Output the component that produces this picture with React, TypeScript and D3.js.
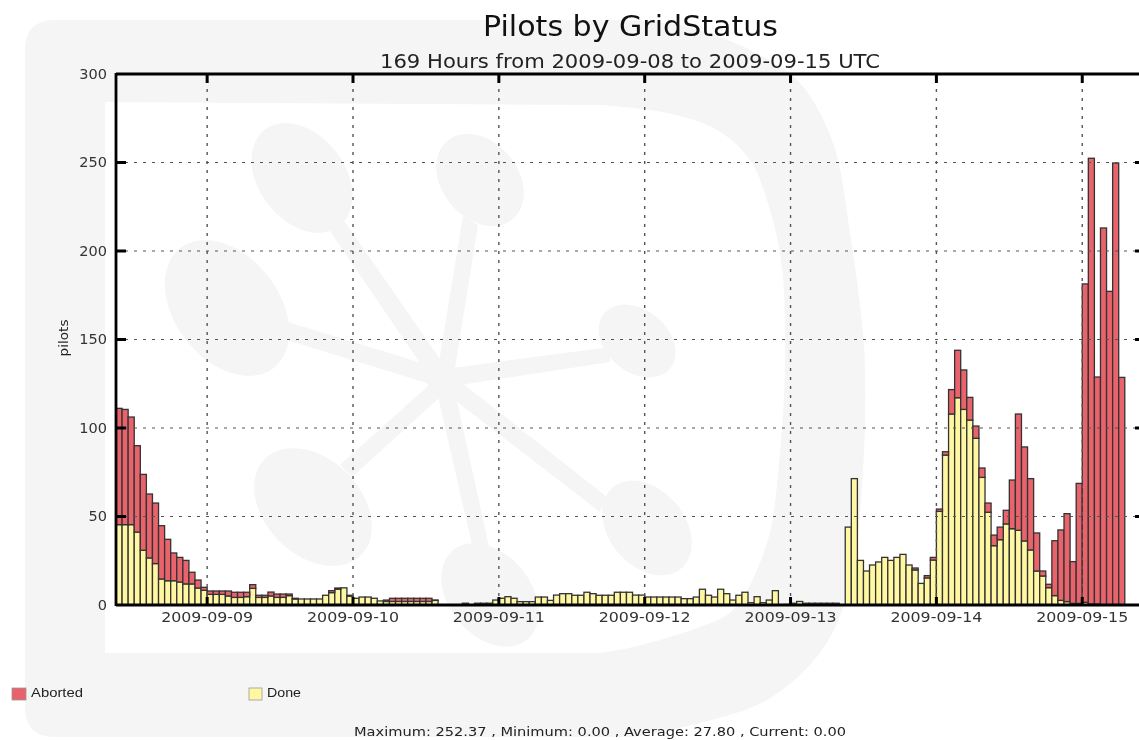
import React from "react";
import * as d3 from "d3";

const W = 1139;
const H = 740;

const startTime = "2009-09-08T09:00:00Z";
const endTime = "2009-09-15T10:00:00Z";
const tickDays = ["2009-09-09", "2009-09-10", "2009-09-11", "2009-09-12", "2009-09-13", "2009-09-14", "2009-09-15"];
const yTicks = [0, 50, 100, 150, 200, 250, 300];
const seriesNames = ["Done", "Aborted"];

const done = [
  45.4, 45.4, 45.4, 41.2, 30.9, 26.6, 23.4, 14.7, 13.7, 13.7,
  13, 11.9, 11.9, 9.6, 8.3, 6, 6, 6, 5.1, 4.3,
  4.3, 4.7, 9.4, 4.3, 4.3, 5.1, 4.3, 4.3, 5.3, 3.4,
  3.4, 3.4, 3.4, 3.4, 5.5, 7, 8.9, 9.7, 5, 3.8,
  4.5, 4.5, 3.8, 2.3, 2, 2, 2, 2, 2, 2,
  2, 2, 2.6, 0, 0, 0, 0, 1, 0, 1,
  1, 1, 2.8, 3.8, 4.7, 3.8, 1.9, 1.9, 1.9, 4.5,
  4.5, 2.6, 5.6, 6.4, 6.4, 5.5, 5.5, 7.2, 6.4, 5.5,
  5.5, 5.5, 7.2, 7.2, 7.2, 5.6, 5.6, 4.5, 4.5, 4.5,
  4.5, 4.5, 4.5, 3.6, 3.6, 4.5, 8.9, 5.5, 4.5, 8.9,
  6.4, 2.8, 5.5, 7.2, 1.3, 4.7, 1.3, 2.8, 8.1, 0,
  0.3, 1, 2, 1, 1, 1, 1, 1, 1, 0,
  44, 71.4, 25.2, 19.2, 22.6, 24.3, 26.9, 25.2, 26.9, 28.6,
  22.6, 19.8, 12.2, 15.3, 25.4, 52.9, 84.7, 107.9, 117.1, 110.5,
  104.5, 94.2, 72.1, 52.4, 33.5, 36.9, 45.8, 43.1, 42.2, 36.2,
  31.1, 19.2, 16.4, 9.8, 5.3, 2.6, 1.9, 0.9, 0.9, 1.5,
  0.5, 0.5, 0, 0, 0, 0, 0, 0, 0,
];

const aborted = [
  65.7, 65.1, 60.8, 48.8, 42.9, 36.1, 34.2, 30.1, 23.4, 15.7,
  13.9, 13.3, 6.6, 4.5, 1.7, 1.9, 1.9, 1.9, 2.8, 2.9,
  2.9, 2.5, 2.1, 1.2, 1.2, 2.2, 1.9, 1.9, 0.9, 0.4,
  0, 0, 0, 0, 0, 1.1, 0.7, 0, 0.5, 0,
  0, 0, 0, 0, 0.8, 1.8, 1.8, 1.8, 1.8, 1.8,
  1.8, 1.8, 0.2, 0, 0, 0, 0, 0, 0, 0,
  0, 0, 0, 0, 0, 0, 0, 0, 0, 0,
  0, 0, 0, 0, 0, 0, 0, 0, 0, 0,
  0, 0, 0, 0, 0, 0, 0, 0, 0, 0,
  0, 0, 0, 0, 0, 0, 0, 0, 0, 0,
  0, 0, 0, 0, 0, 0, 0, 0, 0, 0,
  0, 0, 0, 0, 0, 0, 0, 0, 0, 0,
  0, 0, 0, 0, 0, 0, 0, 0, 0, 0,
  0, 1.1, 0, 1.3, 1.5, 1.3, 1.9, 13.8, 26.8, 22.3,
  12.8, 6.9, 5.3, 5.2, 6, 7.1, 7.7, 27.5, 65.7, 53.1,
  40.3, 21.5, 2.8, 1.9, 31, 39.8, 49.7, 23.6, 67.8, 179.9,
  251.9, 128.3, 213, 177.2, 249.7, 128.6, 0, 0, 0,
];

const GRAY = "#f5f5f5";
const RED = "#e8636b";
const YELLOW = "#fff7a1";
const EDGE = "#333333";
const SANS = "'DejaVu Sans', sans-serif";

const logoEllipses: [number, number, number, number, number][] = [
  [302, 178, 61, 43, 52],
  [480, 180, 51, 38, 50],
  [227, 308, 76, 52, 52],
  [637, 341, 43, 31, 40],
  [313, 507, 68, 48, 45],
  [490, 595, 58, 41, 50],
  [647, 528, 53, 38, 50],
];

const logoSpokes: string[] = [
  "M345,222 L442,362 L420,363 L330,231 Z",
  "M463,216 L439,362 L455,368 L478,225 Z",
  "M288,322 L425,364 L430,384 L287,340 Z",
  "M452,368 L610,347 L610,362 L460,385 Z",
  "M340,465 L437,378 L440,397 L352,477 Z",
  "M437,392 L472,545 L489,547 L456,396 Z",
  "M462,383 L607,497 L600,512 L452,398 Z",
  "M420,363 L442,360 L455,368 L463,385 L456,398 L437,397 L427,383 Z",
];

const outerCurve: [number, number][] = [
  [600, 20], [660, 22], [700, 30], [760, 55], [800, 83], [833, 143], [850, 233], [863, 333],
  [865, 370], [863, 470], [850, 585], [822, 650], [767, 700], [700, 723], [633, 737],
];
const innerCurve: [number, number][] = [
  [600, 105], [667, 113], [717, 130], [750, 160], [770, 210], [782, 267], [785, 333], [785, 370],
  [780, 453], [767, 543], [733, 610], [700, 627], [633, 647], [600, 653],
];

export default function App() {
  const x = d3
    .scaleUtc()
    .domain([new Date(startTime), new Date(endTime)])
    .range([116, 116 + 169 * 6.077]);
  const y = d3.scaleLinear().domain([0, 300]).range([605, 74]);
  const hourly = done.map((d, i) => ({
    t: d3.utcHour.offset(new Date(startTime), i),
    Done: d,
    Aborted: aborted[i],
  }));
  const stacked = d3.stack<any>().keys(seriesNames)(hourly);
  const colours: Record<string, string> = { Done: YELLOW, Aborted: RED };
  const curve = d3.line().curve(d3.curveCatmullRom.alpha(0.5));
  const outerPath = (curve(outerCurve) as string).slice(1);
  const innerPath = (curve(innerCurve) as string).slice(1);
  const days = tickDays.map((d) => ({ label: d, px: x(new Date(d + "T00:00:00Z")) }));
  const gridColor = "#555";

  return (
    <svg
      width={W}
      height={H}
      viewBox={`0 0 ${W} ${H}`}
      style={{ position: "absolute", left: 0, top: 0, background: "#fff", filter: "blur(0.5px)" }}
    >
      <path
        fillRule="evenodd"
        fill={GRAY}
        d={`M25,50 Q25,20 55,20 L${outerPath} L55,737 Q25,737 25,707 Z M105,102 L${innerPath} L105,653 Z`}
      />
      {logoEllipses.map(([cx, cy, rx, ry, rot], i) => (
        <ellipse key={i} cx={cx} cy={cy} rx={rx} ry={ry} fill={GRAY} transform={`rotate(${rot} ${cx} ${cy})`} />
      ))}
      {logoSpokes.map((d, i) => (
        <path key={i} d={d} fill={GRAY} />
      ))}

      <text x={630.5} y={36} textAnchor="middle" fontFamily={SANS} fontSize={27.5} fill="#111" textLength={295} lengthAdjust="spacingAndGlyphs">
        Pilots by GridStatus
      </text>
      <text x={630} y={68} textAnchor="middle" fontFamily={SANS} fontSize={20} fill="#222" textLength={500} lengthAdjust="spacingAndGlyphs">
        169 Hours from 2009-09-08 to 2009-09-15 UTC
      </text>

      {stacked.map((layer) => (
        <g key={layer.key}>
          {layer.map((d, i) =>
            d[1] - d[0] > 0 ? (
              <rect
                key={i}
                x={x(d.data.t)}
                width={x(d3.utcHour.offset(d.data.t, 1)) - x(d.data.t)}
                y={y(d[1])}
                height={y(d[0]) - y(d[1])}
                fill={colours[layer.key]}
                stroke={EDGE}
                strokeWidth={1.3}
              />
            ) : null
          )}
        </g>
      ))}

      {days.map((d) => (
        <line key={d.label} x1={d.px} x2={d.px} y1={605} y2={74} stroke={gridColor} strokeWidth={1.4} strokeDasharray="3 6" />
      ))}
      {yTicks.slice(1, -1).map((v) => (
        <line key={v} x1={116} x2={1139} y1={y(v)} y2={y(v)} stroke={gridColor} strokeWidth={1.2} strokeDasharray="3 6" />
      ))}

      <line x1={116} x2={1139} y1={74} y2={74} stroke="#000" strokeWidth={2.8} />
      <line x1={116} x2={1139} y1={605} y2={605} stroke="#000" strokeWidth={3} />
      <line x1={116} x2={116} y1={73} y2={606} stroke="#000" strokeWidth={2.8} />

      {days.map((d) => (
        <g key={d.label}>
          <line x1={d.px} x2={d.px} y1={74} y2={83} stroke="#000" strokeWidth={3} />
          <line x1={d.px} x2={d.px} y1={605} y2={597} stroke="#000" strokeWidth={3} />
          <text x={d.px} y={622} textAnchor="middle" fontFamily={SANS} fontSize={14.5} fill="#333" textLength={92} lengthAdjust="spacingAndGlyphs">
            {d.label}
          </text>
        </g>
      ))}
      {yTicks.map((v) => (
        <g key={v}>
          {v > 0 && v < 300 && (
            <>
              <line x1={116} x2={126} y1={y(v)} y2={y(v)} stroke="#000" strokeWidth={3} />
              <line x1={1135} x2={1139} y1={y(v)} y2={y(v)} stroke="#000" strokeWidth={3} />
            </>
          )}
          <text x={107} y={y(v) + 4.5} textAnchor="end" fontFamily={SANS} fontSize={14.5} fill="#333">
            {v}
          </text>
        </g>
      ))}

      <text
        transform="translate(68,338) rotate(-90)"
        textAnchor="middle"
        fontFamily={SANS}
        fontSize={12.5}
        fill="#222"
        textLength={37}
        lengthAdjust="spacingAndGlyphs"
      >
        pilots
      </text>

      <rect x={12} y={688} width={14} height={12} fill={RED} stroke="#999" strokeWidth={0.8} />
      <text x={31} y={697} fontFamily="'Liberation Sans', Arial, sans-serif" fontSize={13} fill="#222" textLength={52} lengthAdjust="spacingAndGlyphs">
        Aborted
      </text>
      <rect x={249} y={688} width={13} height={12} fill={YELLOW} stroke="#999" strokeWidth={0.8} />
      <text x={267} y={697} fontFamily="'Liberation Sans', Arial, sans-serif" fontSize={13} fill="#222" textLength={34} lengthAdjust="spacingAndGlyphs">
        Done
      </text>

      <text x={600} y={736} textAnchor="middle" fontFamily={SANS} fontSize={13} fill="#222" textLength={492} lengthAdjust="spacingAndGlyphs">
        Maximum: 252.37 , Minimum: 0.00 , Average: 27.80 , Current: 0.00
      </text>
    </svg>
  );
}
